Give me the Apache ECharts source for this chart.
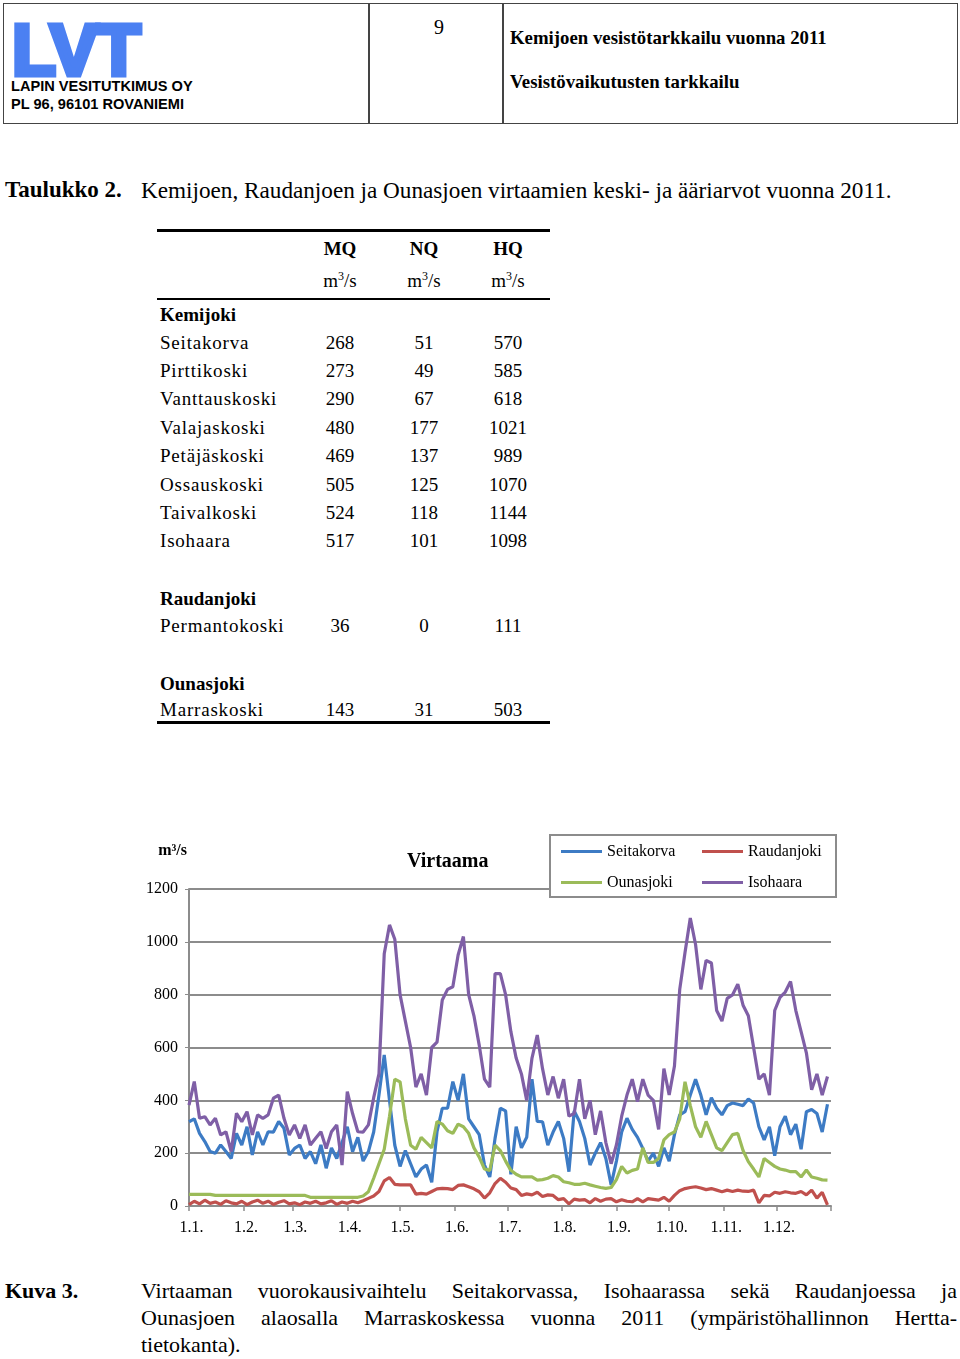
<!DOCTYPE html>
<html>
<head>
<meta charset="utf-8">
<script src="https://cdn.jsdelivr.net/npm/echarts@6/dist/echarts.min.js"></script>
<style>
  body { margin: 0; background: #fff; }
  #page { position: relative; width: 960px; height: 1359px; overflow: hidden; font-family: 'Liberation Serif', 'Times New Roman', serif; color: #000; }
  .abs { position: absolute; white-space: nowrap; }
  .sans { font-family: 'Liberation Sans', Arial, sans-serif; font-weight: bold; }
  .rule { position: absolute; background: #000; }
  .c { text-align: center; width: 70px; }
  .just { text-align: justify; text-align-last: justify; width: 816px; white-space: normal; }
  sup { font-size: 12px; vertical-align: 7px; line-height: 0; }
</style>
</head>
<body>
<div id="page">
  <!-- header -->
  <div class="abs" style="left:3px;top:3px;width:955px;height:121px;border:1.5px solid #444;box-sizing:border-box;"></div>
  <div class="rule" style="left:368px;top:3px;width:1.5px;height:121px;background:#444;"></div>
  <div class="rule" style="left:502px;top:3px;width:1.5px;height:121px;background:#444;"></div>
  <div class="abs sans" style="left:12px;top:14px;font-size:72px;line-height:72px;color:#4b80f2;letter-spacing:-1px;-webkit-text-stroke:5px #4b80f2;">LVT</div>
  <div class="abs sans" style="left:11px;top:79px;font-size:14.6px;line-height:14px;">LAPIN VESITUTKIMUS OY</div>
  <div class="abs sans" style="left:11px;top:97px;font-size:14.6px;line-height:14px;">PL 96, 96101 ROVANIEMI</div>
  <div class="abs" style="left:429px;top:17px;font-size:20px;line-height:20px;width:20px;text-align:center;">9</div>
  <div class="abs" style="left:510px;top:29px;font-size:18.8px;line-height:18px;font-weight:bold;">Kemijoen vesistötarkkailu vuonna 2011</div>
  <div class="abs" style="left:510px;top:73px;font-size:18.8px;line-height:18px;font-weight:bold;">Vesistövaikutusten tarkkailu</div>

  <!-- table caption -->
  <div class="abs" style="left:5px;top:179px;font-size:23px;line-height:22px;font-weight:bold;">Taulukko 2.</div>
  <div class="abs" style="left:141px;top:179px;font-size:23.2px;line-height:22px;">Kemijoen, Raudanjoen ja Ounasjoen virtaamien keski- ja ääriarvot vuonna 2011.</div>

  <!-- table -->
  <div class="rule" style="left:157px;top:229px;width:393px;height:3px;"></div>
  <div class="rule" style="left:157px;top:298px;width:393px;height:2px;"></div>
  <div class="rule" style="left:157px;top:721px;width:393px;height:3px;"></div>
  <div id="table"></div>

  <!-- chart -->
  <div id="chart" style="position:absolute;left:0;top:820px;width:960px;height:440px;"></div>

  <!-- figure caption -->
  <div class="abs" style="left:5px;top:1280px;font-size:22px;line-height:22px;font-weight:bold;">Kuva 3.</div>
  <div class="abs just" style="left:141px;top:1280px;font-size:22px;line-height:22px;">Virtaaman vuorokausivaihtelu Seitakorvassa, Isohaarassa sekä Raudanjoessa ja</div>
  <div class="abs just" style="left:141px;top:1307px;font-size:22px;line-height:22px;">Ounasjoen alaosalla Marraskoskessa vuonna 2011 (ympäristöhallinnon Hertta-</div>
  <div class="abs" style="left:141px;top:1334px;font-size:22px;line-height:22px;">tietokanta).</div>
</div>

<script>
// ---- table data ----
const tableCols = ['MQ', 'NQ', 'HQ'];
const tableColX = [340, 424, 508];
const tableGroups = ['Kemijoki', 'Raudanjoki', 'Ounasjoki'];
const kemiSites = ['Seitakorva', 'Pirttikoski', 'Vanttauskoski', 'Valajaskoski', 'Petäjäskoski', 'Ossauskoski', 'Taivalkoski', 'Isohaara'];
const kemiValues = [[268, 51, 570], [273, 49, 585], [290, 67, 618], [480, 177, 1021], [469, 137, 989], [505, 125, 1070], [524, 118, 1144], [517, 101, 1098]];
const raudSites = ['Permantokoski'];
const raudValues = [[36, 0, 111]];
const ounasSites = ['Marraskoski'];
const ounasValues = [[143, 31, 503]];

// ---- chart data: daily flow, every 3rd day of 2011 (m3/s) ----
const STEP = 3;
const monthStarts = [0, 31, 59, 90, 120, 151, 181, 212, 243, 273, 304, 334];
const monthLabels = ['1.1.', '1.2.', '1.3.', '1.4.', '1.5.', '1.6.', '1.7.', '1.8.', '1.9.', '1.10.', '1.11.', '1.12.'];
const seriesNames = ['Seitakorva', 'Raudanjoki', 'Ounasjoki', 'Isohaara'];

const seitakorva = [319, 330, 275, 244, 206, 200, 231, 206, 180, 275, 231, 300, 193, 281, 231, 281, 280, 320, 294, 193,
  218, 231, 180, 206, 160, 231, 143, 220, 180, 240, 300, 206, 260, 170, 206, 280, 420, 572, 400, 230,
  150, 210, 160, 110, 140, 155, 90, 281, 370, 370, 471, 400, 500, 330, 300, 270, 155, 110, 256, 370,
  360, 120, 300, 220, 260, 480, 320, 319, 230, 280, 320, 256, 130, 360, 320, 256, 155, 200, 240, 180,
  80, 170, 280, 332, 290, 260, 218, 170, 200, 150, 220, 170, 270, 345, 357, 420, 480, 420, 345, 410,
  370, 345, 380, 390, 385, 380, 405, 390, 300, 250, 300, 190, 300, 340, 270, 310, 215, 357, 365, 350,
  280, 385];

const raudanjoki = [5, 18, 8, 22, 10, 15, 6, 20, 12, 8, 18, 5, 15, 22, 10, 18, 6, 14, 20, 8,
  12, 5, 15, 10, 18, 8, 12, 20, 6, 15, 10, 18, 12, 20, 29, 38, 55, 95, 108, 82,
  80, 80, 80, 45, 48, 45, 55, 65, 67, 66, 62, 78, 80, 73, 65, 54, 30, 50, 85, 105,
  90, 68, 62, 40, 46, 42, 52, 36, 42, 40, 24, 28, 8, 26, 22, 24, 12, 28, 18, 26,
  28, 16, 24, 18, 16, 28, 16, 28, 25, 22, 33, 18, 40, 58, 66, 70, 73, 68, 62, 66,
  60, 54, 60, 55, 60, 56, 55, 60, 12, 40, 38, 52, 48, 54, 50, 48, 55, 42, 60, 30,
  52, 4];

const ounasjoki = [44, 44, 44, 44, 44, 40, 40, 40, 40, 40, 40, 40, 40, 40, 40, 40, 40, 40, 40, 40,
  40, 40, 40, 33, 33, 33, 33, 33, 33, 33, 33, 33, 33, 38, 54, 105, 160, 215, 340, 480,
  470, 330, 230, 215, 260, 240, 220, 320, 310, 285, 275, 310, 300, 275, 220, 185, 140, 135, 230, 210,
  170, 135, 120, 110, 110, 110, 98, 100, 105, 115, 110, 92, 88, 82, 82, 86, 80, 75, 70, 67,
  70, 100, 150, 125, 135, 140, 220, 165, 165, 180, 250, 270, 280, 330, 470, 380, 300, 260, 320, 270,
  220, 210, 240, 270, 275, 210, 168, 140, 110, 180, 165, 150, 140, 136, 130, 130, 110, 136, 110, 105,
  99, 98];

const isohaara = [382, 471, 332, 338, 307, 332, 269, 281, 206, 351, 319, 357, 269, 345, 332, 345, 408, 420, 332, 269,
  307, 256, 307, 231, 256, 281, 218, 281, 307, 155, 433, 350, 281, 280, 307, 410, 500, 955, 1064, 1010,
  800, 700, 600, 450, 500, 420, 600, 620, 780, 820, 830, 950, 1020, 800, 720, 609, 480, 450, 880, 880,
  800, 660, 560, 500, 400, 560, 647, 520, 420, 490, 408, 480, 340, 350, 480, 330, 400, 270, 360, 240,
  160, 231, 340, 420, 480, 395, 480, 420, 400, 290, 520, 420, 530, 820, 960, 1090, 990, 820, 930, 920,
  740, 700, 786, 799, 840, 760, 720, 600, 480, 500, 420, 740, 790, 810, 850, 740, 660, 580, 440, 500,
  420, 490];

const seriesColors = ['#3d7bc4', '#c0504d', '#9bbb59', '#7f5fa6'];

// ---- build table ----
const tableEl = document.getElementById('table');
const put = (html, left, top, extra) => {
  const d = document.createElement('div');
  d.className = 'abs' + (extra || '');
  d.style.left = left + 'px';
  d.style.top = top + 'px';
  d.style.fontSize = '19px';
  d.style.lineHeight = '19px';
  d.innerHTML = html;
  tableEl.appendChild(d);
  return d;
};
tableCols.forEach((col, i) => {
  put('<b>' + col + '</b>', tableColX[i] - 35, 239, ' c');
  put('m<sup>3</sup>/s', tableColX[i] - 35, 271, ' c');
});
const addRows = (sites, values, firstY) => {
  sites.forEach((site, r) => {
    const y = firstY + 28.4 * r - 9.5;
    put(site, 160, y).style.letterSpacing = '0.8px';
    values[r].forEach((v, i) => put(String(v), tableColX[i] - 35, y, ' c'));
  });
};
put('<b>' + tableGroups[0] + '</b>', 160, 314 - 9.5);
addRows(kemiSites, kemiValues, 342);
put('<b>' + tableGroups[1] + '</b>', 160, 598 - 9.5);
addRows(raudSites, raudValues, 625);
put('<b>' + tableGroups[2] + '</b>', 160, 683 - 9.5);
addRows(ounasSites, ounasValues, 709);

// ---- chart ----
const chart = echarts.init(document.getElementById('chart'));
const serif = "'Liberation Serif', 'Times New Roman', serif";
const toPoints = arr => arr.map((v, i) => [i * STEP, v]);
const allSeries = [seitakorva, raudanjoki, ounasjoki, isohaara];

chart.setOption({
  animation: false,
  title: {
    text: 'Virtaama',
    left: 407,
    top: 32,
    padding: 0,
    textStyle: { fontFamily: serif, fontSize: 20, fontWeight: 'bold', color: '#000' }
  },
  legend: {
    data: seriesNames,
    left: 550,
    top: 15,
    width: 274,
    padding: [6, 3, 4, 11],
    itemGap: 10,
    itemWidth: 41,
    itemHeight: 3,
    itemTextGap: 6,
    icon: 'rect',
    borderColor: '#8c8c8c',
    borderWidth: 2,
    backgroundColor: '#fff',
    textStyle: { fontFamily: serif, fontSize: 16, color: '#000', width: 85, lineHeight: 21 }
  },
  grid: { left: 189, right: 129, top: 69, bottom: 54 },
  xAxis: {
    type: 'value',
    min: 0,
    max: 365,
    splitLine: { show: false },
    axisLine: { lineStyle: { color: '#8c8c8c', width: 2 } },
    axisTick: { customValues: monthStarts.concat([365]), length: 5, lineStyle: { color: '#8c8c8c', width: 1.5 } },
    axisLabel: {
      customValues: monthStarts,
      margin: 14,
      fontFamily: serif,
      fontSize: 16,
      color: '#000',
      padding: [0, 0, 0, 5],
      formatter: v => monthLabels[monthStarts.indexOf(v)] || ''
    }
  },
  yAxis: {
    type: 'value',
    min: 0,
    max: 1200,
    interval: 200,
    name: 'm³/s',
    nameLocation: 'end',
    nameGap: 30,
    nameTextStyle: { fontFamily: serif, fontSize: 16, fontWeight: 'bold', color: '#000', align: 'right', padding: [0, 2, 0, 0] },
    axisLine: { show: true, lineStyle: { color: '#8c8c8c', width: 2 } },
    axisTick: { show: true, length: 4, lineStyle: { color: '#8c8c8c' } },
    splitLine: { lineStyle: { color: '#8c8c8c', width: 2 } },
    axisLabel: { margin: 11, fontFamily: serif, fontSize: 16, color: '#000', formatter: v => String(v) }
  },
  series: seriesNames.map((name, i) => ({
    name,
    type: 'line',
    data: toPoints(allSeries[i]),
    showSymbol: false,
    color: seriesColors[i],
    lineStyle: { width: 3.2, color: seriesColors[i] }
  }))
});
</script>
</body>
</html>
